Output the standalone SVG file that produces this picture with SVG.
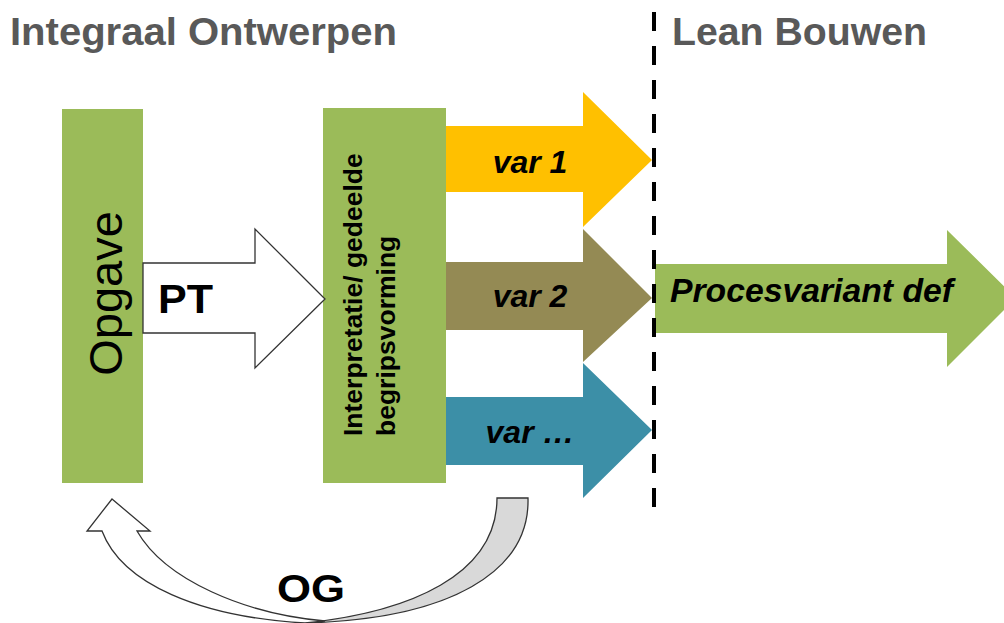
<svg xmlns="http://www.w3.org/2000/svg" width="1004" height="623" viewBox="0 0 1004 623">
  <style>
    .title { font-family: "Liberation Sans", Arial, sans-serif; font-weight: bold; font-size: 38px; fill: #595959; }
    .lbl { font-family: "Liberation Sans", Arial, sans-serif; font-weight: bold; fill: #000; }
    .ital { font-style: italic; }
    .green { fill: #9BBB59; }
    .outline { stroke: #333; stroke-width: 1.3; stroke-linejoin: miter; }
  </style>
  <rect width="1004" height="623" fill="#fff"/>

  <!-- Section headings -->
  <text class="title" x="10" y="45" textLength="387" lengthAdjust="spacingAndGlyphs">Integraal Ontwerpen</text>
  <text class="title" x="672" y="45" textLength="255" lengthAdjust="spacingAndGlyphs">Lean Bouwen</text>

  <!-- Opgave -->
  <g id="opgave">
    <rect class="green" x="62" y="109" width="81" height="374"/>
    <text class="lbl" style="font-weight:normal" font-size="47" text-anchor="middle" transform="translate(122,293.5) rotate(-90)">Opgave</text>
  </g>

  <!-- Interpretatie / gedeelde begripsvorming -->
  <g id="interpretatie">
    <rect class="green" x="323" y="108" width="123" height="375"/>
    <text class="lbl" font-size="26.5" transform="translate(362,436) rotate(-90)">Interpretatie/ gedeelde</text>
    <text class="lbl" font-size="26.5" transform="translate(395,436) rotate(-90)">begripsvorming</text>
  </g>

  <g id="connectors">
    <!-- PT block arrow -->
    <g id="pt">
      <path class="outline" fill="#fff" d="M143,263 L255,263 L255,229 L325,299 L255,368 L255,333 L143,333 Z"/>
      <text class="lbl" font-size="40" x="158" y="313" textLength="55" lengthAdjust="spacingAndGlyphs">PT</text>
    </g>

    <!-- Variant arrows -->
    <g id="var1">
      <path fill="#FFC000" d="M446,126 L583,126 L583,92 L652,160 L583,227 L583,192 L446,192 Z"/>
      <text class="lbl ital" font-size="32" x="530" y="173" text-anchor="middle">var 1</text>
    </g>
    <g id="var2">
      <path fill="#948A54" d="M446,262 L583,262 L583,229 L652,298 L583,362 L583,330 L446,330 Z"/>
      <text class="lbl ital" font-size="32" x="530" y="307" text-anchor="middle">var 2</text>
    </g>
    <g id="var3">
      <path fill="#3C8FA7" d="M446,397 L583,397 L583,363 L652,430 L583,498 L583,465 L446,465 Z"/>
      <text class="lbl ital" font-size="32" x="530" y="443" text-anchor="middle">var …</text>
    </g>

    <!-- Definitive process variant -->
    <g id="procesvariant">
      <path class="green" d="M655,264 L947,264 L947,230 L1016,298 L947,367 L947,333 L655,333 Z"/>
      <text class="lbl ital" font-size="34" x="670" y="302" textLength="283" lengthAdjust="spacingAndGlyphs">Procesvariant def</text>
    </g>

    <!-- OG feedback arrow -->
    <g id="og">
      <path class="outline" fill="#D9D9D9" d="M497,498 L528,498 C530,572 450,619 305,623 C410,612 497,575 497,498 Z"/>
      <path class="outline" fill="#fff" d="M112,499 L150,531 L137,531 C165,580 245,614 325,621 L305,623 C200,617 122,584 102,531 L87,531 Z"/>
      <text class="lbl" font-size="38" x="311" y="602" text-anchor="middle" textLength="68" lengthAdjust="spacingAndGlyphs">OG</text>
    </g>
  </g>

  <!-- Boundary between the two phases -->
  <line id="divider" x1="654" y1="12" x2="654" y2="508" stroke="#000" stroke-width="4" stroke-dasharray="19 15"/>
</svg>
